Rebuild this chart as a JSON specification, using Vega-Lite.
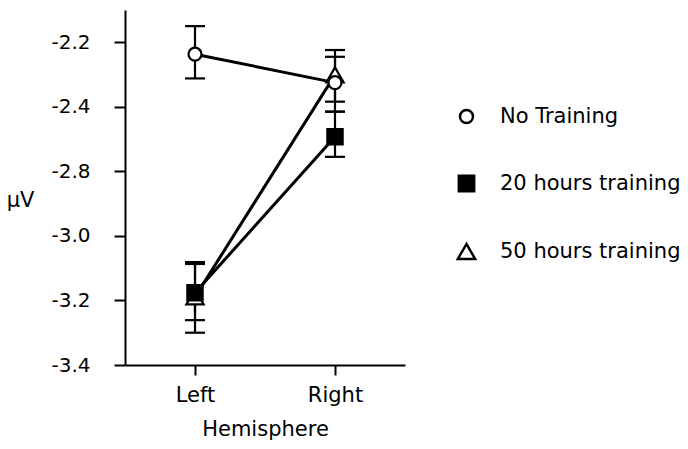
{
  "$schema": "https://vega.github.io/schema/vega-lite/v6.json",
  "width": 280,
  "height": 355,
  "autosize": "none",
  "padding": {"left": 125, "top": 10, "right": 283, "bottom": 84},
  "background": "white",
  "config": {
    "view": {"stroke": null},
    "font": "DejaVu Sans",
    "axis": {
      "domainColor": "black", "domainWidth": 2,
      "tickColor": "black", "tickWidth": 2,
      "labelColor": "black", "titleColor": "black",
      "labelFont": "DejaVu Sans", "titleFont": "DejaVu Sans",
      "titleFontWeight": "normal", "grid": false
    }
  },
  "data": {
    "values": [
      {"hemisphere": "Left", "group": "50 hours training", "mean": -3.189, "lo": -3.300, "hi": -3.081},
      {"hemisphere": "Right", "group": "50 hours training", "mean": -2.501, "lo": -2.584, "hi": -2.424},
      {"hemisphere": "Left", "group": "20 hours training", "mean": -3.176, "lo": -3.261, "hi": -3.087},
      {"hemisphere": "Right", "group": "20 hours training", "mean": -2.693, "lo": -2.755, "hi": -2.615},
      {"hemisphere": "Left", "group": "No Training", "mean": -2.437, "lo": -2.512, "hi": -2.350},
      {"hemisphere": "Right", "group": "No Training", "mean": -2.525, "lo": -2.615, "hi": -2.445}
    ]
  },
  "encoding": {
    "x": {
      "field": "hemisphere", "type": "ordinal",
      "scale": {"type": "point", "padding": 0.5, "domain": ["Left", "Right"]},
      "axis": {
        "title": "Hemisphere", "labelAngle": 0, "labelFontSize": 21, "titleFontSize": 21,
        "tickSize": 10, "labelPadding": 9, "titlePadding": 13
      }
    }
  },
  "layer": [
    {
      "mark": {"type": "rule", "color": "black", "strokeWidth": 2.2},
      "encoding": {
        "y": {"field": "lo", "type": "quantitative"},
        "y2": {"field": "hi"}
      }
    },
    {
      "mark": {"type": "tick", "size": 20, "thickness": 2.2, "color": "black", "opacity": 1},
      "encoding": {"y": {"field": "lo", "type": "quantitative"}}
    },
    {
      "mark": {"type": "tick", "size": 20, "thickness": 2.2, "color": "black", "opacity": 1},
      "encoding": {"y": {"field": "hi", "type": "quantitative"}}
    },
    {
      "mark": {"type": "line", "color": "black", "strokeWidth": 3},
      "encoding": {
        "y": {"field": "mean", "type": "quantitative"},
        "detail": {"field": "group", "type": "nominal"}
      }
    },
    {
      "mark": {"type": "point", "stroke": "black", "strokeWidth": 2.2, "opacity": 1, "filled": false},
      "encoding": {
        "y": {
          "field": "mean", "type": "quantitative",
          "scale": {"domain": [-3.4, -2.3], "nice": false, "zero": false},
          "axis": {
            "title": "μV", "values": [-2.4, -2.6, -2.8, -3.0, -3.2, -3.4],
            "labelExpr": "datum.value > -2.45 ? '-2.2' : datum.value > -2.65 ? '-2.4' : '-' + format(-datum.value, '.1f')",
            "labelFontSize": 20, "titleFontSize": 21, "tickSize": 11, "labelPadding": 24,
            "titleAngle": 0, "titleAlign": "center", "titleBaseline": "middle",
            "titleX": -105, "titleY": 190
          }
        },
        "shape": {
          "field": "group", "type": "nominal",
          "scale": {"domain": ["No Training", "20 hours training", "50 hours training"], "range": ["circle", "square", "triangle-up"]},
          "legend": {
            "title": null, "orient": "none", "legendX": 331, "legendY": 96,
            "labelFontSize": 21, "labelFont": "DejaVu Sans", "labelColor": "black", "labelLimit": 0,
            "labelOffset": 23, "rowPadding": 42, "symbolStrokeColor": "black", "symbolStrokeWidth": 2.5
          }
        },
        "fill": {
          "field": "group", "type": "nominal",
          "scale": {"domain": ["No Training", "20 hours training", "50 hours training"], "range": ["white", "black", "white"]}
        },
        "size": {
          "field": "group", "type": "nominal",
          "scale": {"domain": ["No Training", "20 hours training", "50 hours training"], "range": [169, 300, 200]}
        }
      }
    }
  ]
}
